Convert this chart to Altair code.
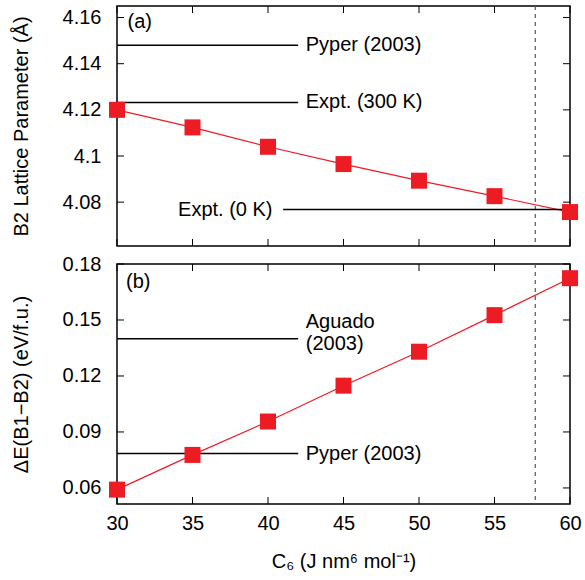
import altair as alt
import pandas as pd

# ---- data ----
c6 = [30, 35, 40, 45, 50, 55, 60]
lattice = [4.1200, 4.1124, 4.1040, 4.0965, 4.0893, 4.0826, 4.0757]
delta_e = [0.0591, 0.0777, 0.0956, 0.1148, 0.1330, 0.1526, 0.1724]

x_ticks = [30, 35, 40, 45, 50, 55, 60]
a_ticks = [4.08, 4.10, 4.12, 4.14, 4.16]
b_ticks = [0.06, 0.09, 0.12, 0.15, 0.18]

# reference lines
a_ref_labels = ["Pyper (2003)", "Expt. (300 K)", "Expt. (0 K)"]
a_ref_y = [4.148, 4.1232, 4.0768]
a_ref_x1 = [30, 30, 41.0]
a_ref_x2 = [42, 42, 60]
a_ref_tx = [42.5, 42.5, 40.3]
a_ref_align = ["left", "left", "right"]

b_ref_labels = [["Aguado", "(2003)"], ["Pyper (2003)"]]
b_ref_y = [0.140, 0.0785]
b_ref_x1 = [30, 30]
b_ref_x2 = [42, 42]
b_ref_tx = [42.5, 42.5]
b_ref_ty = [0.1488, 0.0783]

vline_x = [57.7]
panel_a = ["(a)"]
panel_a_pos = [(30.7, 4.158)]
panel_b = ["(b)"]
panel_b_pos = [(30.6, 0.1705)]

W, H = 453, 240
FONT = "Liberation Sans"
FS = 20
RED = "#ed1c24"
TL = 7

xscale = alt.Scale(domain=[30, 60], nice=False, zero=False)
ascale = alt.Scale(domain=[4.061, 4.165], nice=False, zero=False)
bscale = alt.Scale(domain=[0.0514, 0.18], nice=False, zero=False)


def panel(yvals, yscale, yticks, ytitle, yfmt, show_x, refs, texts, plabel, ppos):
    if show_x:
        xaxis = alt.Axis(
            values=x_ticks, ticks=False, domain=False, grid=False,
            labelFlush=False, labelOverlap=False,
            labelPadding=9, labelFontSize=FS, labelFont=FONT,
            labelColor="black",
            title="C\u2086 (J nm\u2076 mol\u207b\u00b9)",
            titleFontSize=FS, titleFont=FONT, titleFontWeight="normal",
            titleColor="black", titlePadding=18,
        )
    else:
        xaxis = None
    yaxis = alt.Axis(
        values=yticks, ticks=False, domain=False, grid=False, format=yfmt,
        labelFlush=False, labelOverlap=False,
        labelPadding=16, labelFontSize=FS, labelFont=FONT, labelColor="black",
        title=ytitle, titleFontSize=FS, titleFont=FONT,
        titleFontWeight="normal", titleColor="black", titlePadding=31,
    )

    def X(f):
        return alt.X(f, scale=xscale, axis=xaxis)

    def Y(f):
        return alt.Y(f, scale=yscale, axis=yaxis)

    df = pd.DataFrame({"x": c6, "y": yvals})
    line = alt.Chart(df).mark_line(color=RED, strokeWidth=1.2).encode(
        x=X("x:Q"), y=Y("y:Q"))
    pts = alt.Chart(df).mark_square(color=RED, size=256, opacity=1).encode(
        x=X("x:Q"), y=Y("y:Q"))
    vl = alt.Chart(pd.DataFrame({"x": vline_x})).mark_rule(
        color="#555555", strokeDash=[4, 4], strokeWidth=1.2
    ).encode(x=X("x:Q"))
    rdf = pd.DataFrame({"y": refs[0], "x": refs[1], "x2": refs[2]})
    rules = alt.Chart(rdf).mark_rule(color="black", strokeWidth=1.5).encode(
        x=X("x:Q"), x2="x2:Q", y=Y("y:Q"))
    layers = [line, vl, rules]
    for t in texts:
        tdf = pd.DataFrame({"label": [t[0]], "x": [t[1]], "y": [t[2]]})
        layers.append(
            alt.Chart(tdf).mark_text(
                align=t[3], baseline="middle", font=FONT, fontSize=FS,
                color="black", lineHeight=22,
            ).encode(x=X("x:Q"), y=Y("y:Q"), text="label")
        )
    pdf = pd.DataFrame({"label": plabel, "x": [ppos[0][0]], "y": [ppos[0][1]]})
    layers.append(
        alt.Chart(pdf).mark_text(
            align="left", baseline="middle", font=FONT, fontSize=FS, color="black"
        ).encode(x=X("x:Q"), y=Y("y:Q"), text="label")
    )
    xt = alt.Chart(pd.DataFrame({"x": x_ticks})).mark_rule(color="black", strokeWidth=1)
    yt = alt.Chart(pd.DataFrame({"y": yticks})).mark_rule(color="black", strokeWidth=1)
    layers += [
        xt.encode(x=X("x:Q"), y=alt.value(H), y2=alt.value(H - TL)),
        xt.encode(x=X("x:Q"), y=alt.value(0), y2=alt.value(TL)),
        yt.encode(y=Y("y:Q"), x=alt.value(0), x2=alt.value(TL)),
        yt.encode(y=Y("y:Q"), x=alt.value(W), x2=alt.value(W - TL)),
    ]
    layers.append(pts)
    return alt.layer(*layers).properties(width=W, height=H)


a_texts = [
    (a_ref_labels[i], a_ref_tx[i], a_ref_y[i], a_ref_align[i]) for i in range(3)
]
b_texts = [
    (b_ref_labels[i], b_ref_tx[i], b_ref_ty[i], "left") for i in range(2)
]

top = panel(lattice, ascale, a_ticks, "B2 Lattice Parameter (\u00c5)", ".2~f",
            False, (a_ref_y, a_ref_x1, a_ref_x2), a_texts, panel_a, panel_a_pos)
bot = panel(delta_e, bscale, b_ticks, "\u0394E(B1\u2212B2) (eV/f.u.)", ".2f",
            True, (b_ref_y, b_ref_x1, b_ref_x2), b_texts, panel_b, panel_b_pos)

chart = alt.vconcat(top, bot, spacing=18, bounds="flush").properties(
    padding={"left": 10, "top": 4, "right": 2, "bottom": 1},
    background="white",
).configure_view(stroke="black", strokeWidth=1.5)

chart.save("out.html", embed_options={"renderer": "svg", "actions": False})
